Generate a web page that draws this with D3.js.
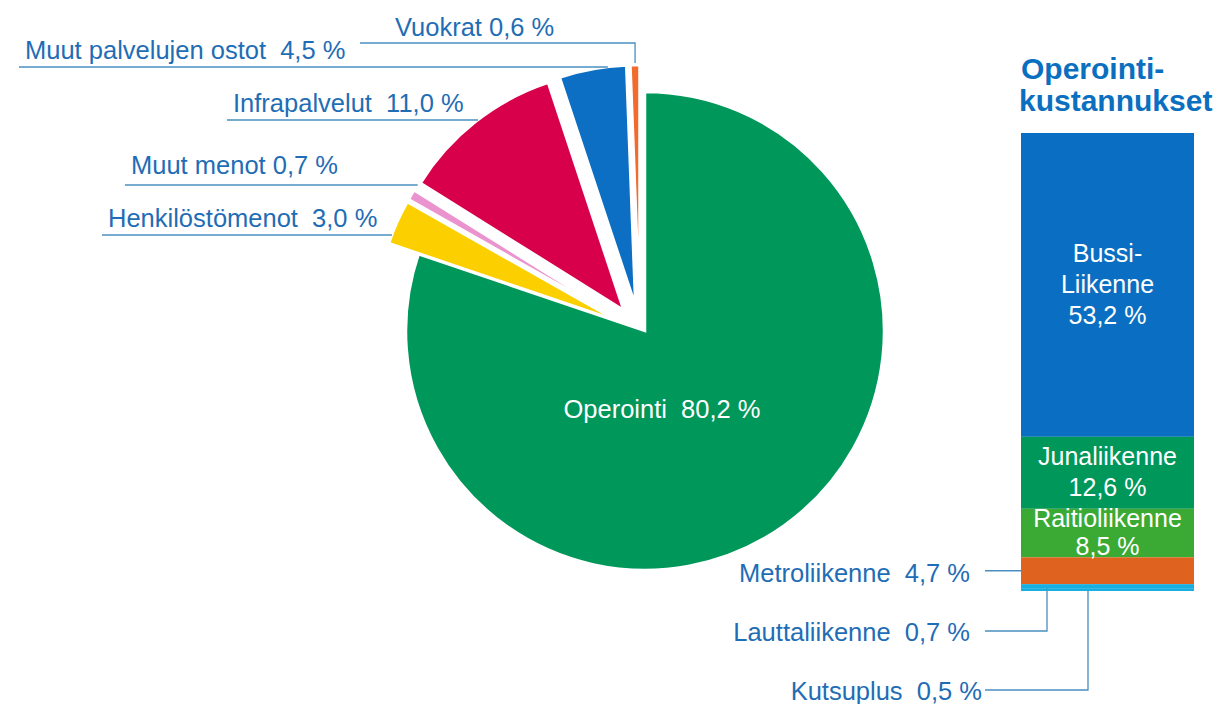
<!DOCTYPE html>
<html lang="fi">
<head>
<meta charset="UTF-8">
<title>Kustannukset</title>
<style>
body { margin: 0; background: #fff; }
text { font-family: 'Liberation Sans', Arial, sans-serif; white-space: pre; }
.lbl { fill: #1f6db5; font-size: 25.5px; }
.inner { fill: #fff; font-size: 25px; }
.lead { stroke: #4a8fbf; stroke-width: 1.3; fill: none; }
</style>
</head>
<body>
<svg width="1222" height="704"></svg>
<script src="https://cdnjs.cloudflare.com/ajax/libs/d3/7.8.5/d3.min.js"></script>
<script>

// pie data
var pieNames = ["Operointi", "Henkilöstömenot", "Muut menot", "Infrapalvelut", "Muut palvelujen ostot", "Vuokrat"];
var pieValues = [80.2, 3.0, 0.7, 11.0, 4.5, 0.6];
var pieColors = ["#00975b", "#fcd000", "#ea93cf", "#d8004b", "#0c6fc3", "#f26a2c"];

// bar data (operointikustannukset)
var barNames = ["Bussi-\nLiikenne", "Junaliikenne", "Raitioliikenne", "Metroliikenne", "Lauttaliikenne", "Kutsuplus"];
var barValues = [53.2, 12.6, 8.5, 4.7, 0.7, 0.5];
var barColors = ["#0a6fc2", "#00975b", "#3aaa35", "#e0621f", "#18aee0", "#18aee0"];

var fmt = function(v) { return d3.format(".1f")(v).replace(".", ",") + " %"; };

var svg = d3.select("svg");

// ---- pie ----
var cx = 645, cy = 331, R = 239, explode = 27, shiftX = -5;

var arcs = d3.pie().sort(null).value(function(d) { return d; })(pieValues);
var arc = d3.arc().innerRadius(0).outerRadius(R);

arcs.forEach(function(a, i) {
    var mid = (a.startAngle + a.endAngle) / 2;
    var e = i === 0 ? 0 : explode;
    a.ox = cx + e * Math.sin(mid) + (i === 0 ? 0 : shiftX);
    a.oy = cy - e * Math.cos(mid);
    a.mid = mid;
});

svg.append("g").selectAll("path")
    .data(arcs)
    .enter().append("path")
    .attr("transform", function(d) { return "translate(" + d.ox + "," + d.oy + ")"; })
    .attr("d", arc)
    .attr("fill", function(d, i) { return pieColors[i]; })
    .attr("stroke", "#fff")
    .attr("stroke-width", 2.5)
    .attr("stroke-linejoin", "miter");

svg.append("text")
    .attr("class", "inner")
    .attr("x", cx + 17).attr("y", cy + 87)
    .attr("text-anchor", "middle")
    .style("font-size", "25.5px")
    .text(pieNames[0] + "  " + fmt(pieValues[0]));

// label placement (layout): text left x, baseline y, underline y
var pieLabelPos = [null,
    {x: 108, y: 227, ly: 235},
    {x: 131, y: 174, ly: 185},
    {x: 233, y: 112, ly: 120},
    {x: 25, y: 59, ly: 67},
    {x: 395, y: 36, ly: 43}];

arcs.forEach(function(a, i) {
    if (i === 0) return;
    var p = pieLabelPos[i];
    var gap = (i === 1 || i === 3 || i === 4) ? "  " : " ";
    svg.append("text")
        .attr("class", "lbl")
        .attr("x", p.x).attr("y", p.y)
        .text(pieNames[i] + gap + fmt(pieValues[i]));
    if (i === 5) {
        // vertical drop onto the thin slice
        var vx = a.ox + (R - 4) * Math.sin(a.mid);
        var vy = a.oy - R * Math.cos(a.mid);
        svg.append("path").attr("class", "lead")
            .attr("d", "M" + (p.x - 35) + "," + p.ly + "H" + vx + "V" + (vy - 2));
    } else {
        var dy = p.ly - a.oy;
        var ex = a.ox - Math.sqrt(Math.max(0, R * R - dy * dy));
        svg.append("path").attr("class", "lead")
            .attr("d", "M" + (p.x - 6) + "," + p.ly + "H" + ex);
    }
});

// ---- stacked bar ----
var bx = 1021, bw = 173;
var ends = d3.cumsum(barValues);
var y = d3.scaleLinear().domain([0, d3.sum(barValues)]).range([133, 591]);

var segs = barValues.map(function(v, i) {
    return {v: v, y0: y(ends[i] - v), y1: y(ends[i]), name: barNames[i], color: barColors[i]};
});

svg.append("g").selectAll("rect")
    .data(segs)
    .enter().append("rect")
    .attr("x", bx).attr("width", bw)
    .attr("y", function(d) { return d.y0; })
    .attr("height", function(d) { return d.y1 - d.y0; })
    .attr("fill", function(d) { return d.color; });

svg.append("text").attr("x", 1021).attr("y", 79)
    .attr("fill", "#0b6fbf").style("font-size", "30px").style("font-weight", "bold")
    .text("Operointi-");
svg.append("text").attr("x", 1019).attr("y", 111)
    .attr("fill", "#0b6fbf").style("font-size", "30px").style("font-weight", "bold")
    .text("kustannukset");

// labels inside the first three segments
segs.slice(0, 3).forEach(function(s) {
    var lines = s.name.split("\n").concat([fmt(s.v)]);
    var h = s.y1 - s.y0;
    var lh = Math.min(31, h / 1.75);
    var mid = (s.y0 + s.y1) / 2 - (lines.length - 1) * lh / 2 + 8;
    lines.forEach(function(l, k) {
        svg.append("text").attr("class", "inner")
            .attr("x", bx + bw / 2).attr("y", mid + k * lh)
            .attr("text-anchor", "middle")
            .text(l);
    });
});

// outside labels with leaders
var outPos = [{ty: 572, lx: bx}, {ty: 631, lx: 1047}, {ty: 690, lx: 1088}];
segs.slice(3).forEach(function(s, k) {
    var p = outPos[k];
    var textX = k === 2 ? 982 : 970;
    svg.append("text").attr("class", "lbl")
        .attr("x", textX).attr("y", p.ty + 10)
        .attr("text-anchor", "end")
        .text(s.name + "  " + fmt(s.v));
    if (k === 0) {
        var my = (s.y0 + s.y1) / 2;
        svg.append("path").attr("class", "lead")
            .attr("d", "M985," + my + "H" + p.lx);
    } else {
        svg.append("path").attr("class", "lead")
            .attr("d", "M985," + p.ty + "H" + p.lx + "V" + s.y1);
    }
});

</script>
</body>
</html>
